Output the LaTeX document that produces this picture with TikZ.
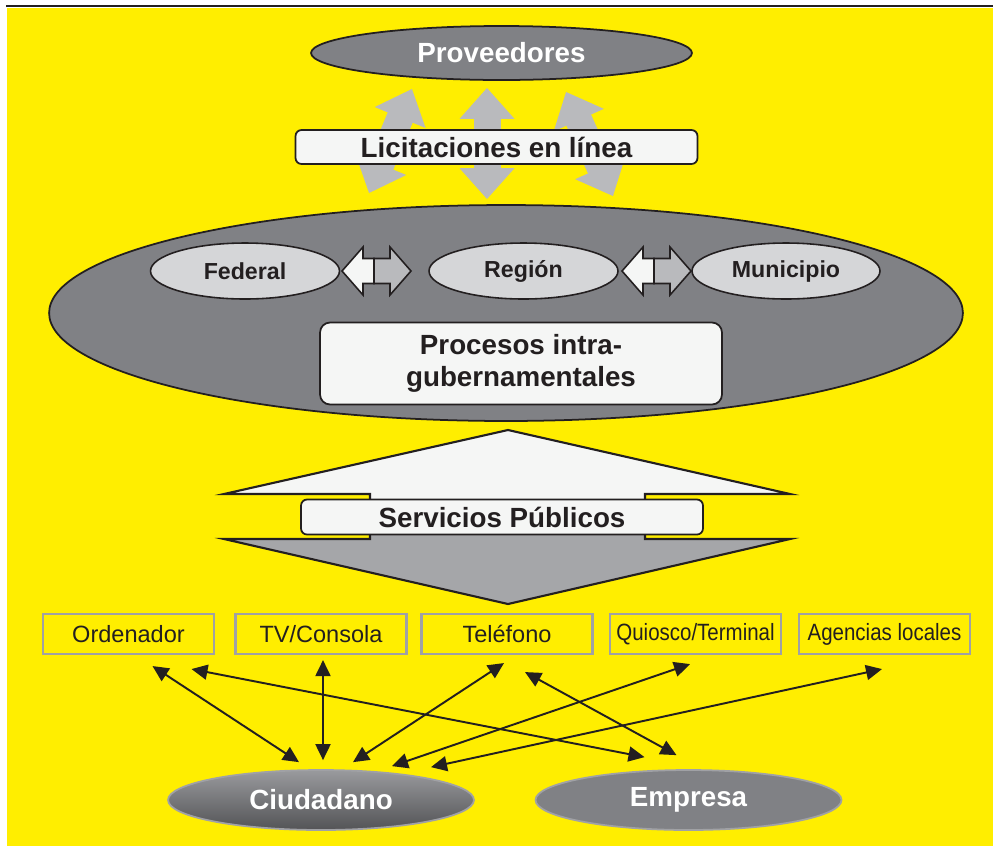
\documentclass[tikz,border=0pt]{standalone}
\usepackage{fontspec}
\setmainfont{Liberation Sans}
\usepackage{graphicx}
\usepackage{tikz}
\usetikzlibrary{positioning,shapes.geometric,arrows.meta}

\definecolor{bgyellow}{RGB}{255,238,0}
\definecolor{ovalgray}{RGB}{128,129,133}
\definecolor{palegray}{RGB}{213,214,216}
\definecolor{boxwhite}{RGB}{245,246,245}
\definecolor{arrowgray}{RGB}{185,186,189}
\definecolor{downgray}{RGB}{165,166,169}
\definecolor{edgegray}{RGB}{160,161,165}
\definecolor{ink}{RGB}{35,31,32}

\newcommand\bigfont{\fontsize{15.8}{18}\selectfont\bfseries}
\newcommand\midfont{\fontsize{13.2}{15}\selectfont\bfseries}
\newcommand\smallfont{\fontsize{13.4}{15}\selectfont}
\newcommand\squeeze[1]{\scalebox{0.87}[1]{#1}}

\tikzset{
  darkoval/.style={ellipse, draw=ink, line width=1pt, fill=ovalgray, inner sep=0pt, text=white, font=\bigfont},
  lightoval/.style={ellipse, draw=ink, line width=0.9pt, fill=palegray, inner sep=0pt,
    minimum width=3.78cm, minimum height=1.12cm, text=ink, font=\midfont},
  whitebox/.style={rectangle, rounded corners=0.12cm, draw=ink, line width=1pt, fill=boxwhite,
    inner sep=0pt, text=ink, font=\bigfont},
  channel/.style={rectangle, draw=edgegray, line width=1.2pt, inner sep=0pt,
    minimum width=3.42cm, minimum height=0.8cm, text=ink, font=\smallfont},
  actor/.style={ellipse, draw=edgegray, line width=1pt, inner sep=0pt,
    minimum width=6.12cm, minimum height=1.2cm, text=white, font=\bigfont},
  link/.style={{Triangle[length=0.32cm,width=0.3cm]}-{Triangle[length=0.32cm,width=0.3cm]},
    line width=1.1pt, draw=ink},
  bidir/.style={{Triangle[width=1.06cm,length=0.62cm]}-{Triangle[width=1.06cm,length=0.62cm]},
    line width=0.54cm, draw=arrowgray},
  dualarrow/.pic={
    \filldraw[fill=boxwhite, draw=ink, line width=0.9pt]
      (-32,0) -- (-11,-24) -- (-11,-12.5) -- (0,-12.5) -- (0,12.5) -- (-11,12.5) -- (-11,24) -- cycle;
    \filldraw[fill=arrowgray, draw=ink, line width=0.9pt]
      (0,-12.5) -- (16,-12.5) -- (16,-24) -- (37,0) -- (16,24) -- (16,12.5) -- (0,12.5) -- cycle;
  }
}

\begin{document}
\begin{tikzpicture}[x=0.02cm, y=-0.02cm]
  \useasboundingbox (0,0) rectangle (993,846);
  \fill[bgyellow] (6.5,8) rectangle (993,846);
  \draw[line width=1.4pt, ink] (6,6.2) -- (993,6.2);

  % suppliers and government
  \node (prov) [darkoval, minimum width=7.62cm, minimum height=1.08cm] at (501.5,53) {Proveedores};
  \node (gob) [darkoval, minimum width=18.28cm, minimum height=4.32cm] at (506,313) {};

  \node (fed) [lightoval] at (245,271) {Federal};
  \node (reg) [lightoval] at (523.5,271) {Región};
  \node (mun) [lightoval, minimum width=3.76cm] at (786,271) {Municipio};
  \pic at (374,271) {dualarrow};
  \pic at (654,271) {dualarrow};

  \draw[bidir] ([shift={(-137,-11)}]gob.north) -- ([shift={(-89.5,8)}]prov.south);
  \draw[bidir] ([shift={(-19,-5)}]gob.north) -- ([shift={(-14.5,7)}]prov.south);
  \draw[bidir] ([shift={(107,-8)}]gob.north) -- ([shift={(64.5,11)}]prov.south);

  \node (lic) [whitebox, minimum width=8.04cm, minimum height=0.68cm] at (496.5,147) {Licitaciones en línea};
  \node (proc) [whitebox, rounded corners=0.2cm, align=center, minimum width=8.04cm, minimum height=1.64cm]
    at (521,363.5) {Procesos intra-\\gubernamentales};

  % public services
  \filldraw[fill=boxwhite, draw=ink, line width=1.2pt]
    (508,430) -- (790,494) -- (645,494) -- (645,517) -- (370,517) -- (370,494) -- (224,494) -- cycle;
  \filldraw[fill=downgray, draw=ink, line width=1.2pt]
    (224,539) -- (370,539) -- (370,517) -- (645,517) -- (645,539) -- (790,539) -- (508,604) -- cycle;
  \node (serv) [whitebox, minimum width=8.04cm, minimum height=0.7cm] at (502,517) {Servicios Públicos};

  % channels
  \node (ord) [channel] at (128.5,634) {Ordenador};
  \node (tv) [channel] at (321,634) {TV/Consola};
  \node (tel) [channel] at (507,634) {Teléfono};
  \node (kiosk) [channel] at (695.5,634) {\squeeze{Quiosco/Terminal}};
  \node (agency) [channel] at (884.5,634) {\squeeze{Agencias locales}};

  \node (ciu) [actor, top color=ovalgray!80!white, bottom color=ovalgray!65!black] at (321,800) {Ciudadano};
  \node (emp) [actor, fill=ovalgray] at (688.5,800) {Empresa};

  \draw[link] ([shift={(24,11)}]ord.south) -- ([shift={(-22,-7)}]ciu.north);
  \draw[link] ([shift={(63,14)}]ord.south) -- ([shift={(-44,-12)}]emp.north);
  \draw[link] ([shift={(2,5)}]tv.south) -- ([shift={(2,-9)}]ciu.north);
  \draw[link] ([shift={(-3,8)}]tel.south) -- ([shift={(32,-7)}]ciu.north);
  \draw[link] ([shift={(18,17)}]tel.south) -- ([shift={(-12,-14)}]emp.north);
  \draw[link] ([shift={(-5.5,9)}]kiosk.south) -- ([shift={(71,-3)}]ciu.north);
  \draw[link] ([shift={(-2.5,14)}]agency.south) -- ([shift={(110,-2)}]ciu.north);
\end{tikzpicture}
\end{document}
